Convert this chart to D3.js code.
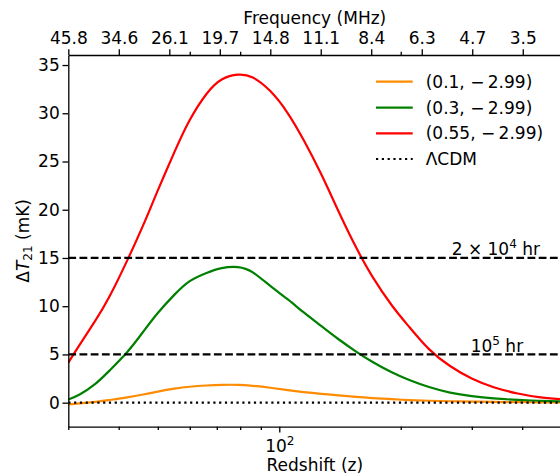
<!DOCTYPE html>
<html lang="en">
<head>
  <meta charset="UTF-8">
  <style>
    body {
      margin: 0;
      overflow: hidden;
      background: #fff;
    }

    svg {
      display: block;
      font-family: "DejaVu Sans", sans-serif;
    }

    .curve {
      fill: none;
      stroke-width: 2.2;
    }

    .axis path, .axis line {
      stroke: #000;
      stroke-width: 1.3;
    }

    .axis text {
      font-family: "DejaVu Sans", sans-serif;
      font-size: 17px;
      fill: #000;
    }
  </style>
  <script src="https://d3js.org/d3.v7.min.js"></script>
</head>
<body>

<svg id="chart"></svg>

<script>
  // redshift grid the curves were read at
  const zGrid = [30, 32, 35, 38, 42, 46, 50, 55, 60, 66, 72, 79, 86, 95, 105, 115, 127,
    140, 155, 170, 190, 210, 235, 265, 300, 340, 390, 440, 500];

  // Delta T21 (mK) for each model
  const dT_01 = [-0.17, -0.08, 0.08, 0.28, 0.55, 0.85, 1.15, 1.45, 1.65, 1.78, 1.85, 1.85, 1.75,
    1.55, 1.3, 1.1, 0.92, 0.76, 0.6, 0.48, 0.36, 0.27, 0.2, 0.15, 0.11, 0.08, 0.05, 0.04, 0.03];
  const dT_03 = [0.33, 0.85, 1.95, 3.35, 5.25, 7.35, 9.3, 11.2, 12.6, 13.45, 13.95, 14.05, 13.5,
    12.1, 10.7, 9.35, 7.95, 6.6, 5.3, 4.25, 3.15, 2.35, 1.62, 1.05, 0.68, 0.44, 0.29, 0.2, 0.14];
  const dT_055 = [4.15, 6.0, 8.5, 11.05, 14.75, 18.4, 22.0, 26.0, 29.3, 32.0, 33.5, 34.0, 33.7,
    32.3, 30.0, 27.2, 23.7, 19.9, 16.1, 13.1, 10.1, 7.85, 5.55, 3.8, 2.5, 1.6, 0.95, 0.58, 0.35];

  const seriesNames = ["(0.1, \u2212\u20092.99)", "(0.3, \u2212\u20092.99)", "(0.55, \u2212\u20092.99)"];
  const seriesColors = ["#ff8c00", "#008000", "#ff0000"];
  const seriesValues = [dT_01, dT_03, dT_055];

  // sensitivity levels (mK) and their labels
  const sensLevels = [15, 5];
  const sensBase = ["2 \u00d7 10", "10"];
  const sensSup = ["4", "5"];

  const yTicks = [0, 5, 10, 15, 20, 25, 30, 35];
  const zMajor = [100];
  const zMinor = [30, 40, 50, 60, 70, 80, 90, 200, 300, 400, 500];
  const topTickZ = [30, 40.02, 53.39, 71.22, 95.0, 126.7, 169.0, 225.5, 300.8, 401.3];
  const topMinorZ = [60, 80, 200];

  const W = 560, H = 474;
  const pLeft = 68.3, pRight = 561.3, pTop = 55, pBottom = 426.7;

  const svg = d3.select("#chart")
    .attr("width", W)
    .attr("height", H);

  const x = d3.scaleLog().domain([30, 500]).range([pLeft, pRight]);
  const y = d3.scaleLinear().domain([-2.49, 36.04]).range([pBottom, pTop]);

  svg.append("clipPath").attr("id", "plot-clip")
    .append("rect")
    .attr("x", pLeft).attr("y", pTop)
    .attr("width", pRight - pLeft).attr("height", pBottom - pTop);

  const plot = svg.append("g").attr("clip-path", "url(#plot-clip)");

  const line = d3.line()
    .x((d, i) => x(zGrid[i]))
    .y(d => y(d))
    .curve(d3.curveNatural);

  seriesValues.forEach((vals, k) => {
    plot.append("path")
      .attr("class", "curve")
      .attr("stroke", seriesColors[k])
      .attr("d", line(vals));
  });

  // LCDM reference (zero)
  plot.append("line")
    .attr("x1", pLeft).attr("x2", pRight)
    .attr("y1", y(0)).attr("y2", y(0))
    .attr("stroke", "#000")
    .attr("stroke-width", 2.2)
    .attr("stroke-dasharray", "2.2,3.6");

  // dashed sensitivity lines
  sensLevels.forEach(v => {
    plot.append("line")
      .attr("x1", pLeft).attr("x2", pRight)
      .attr("y1", y(v)).attr("y2", y(v))
      .attr("stroke", "#000")
      .attr("stroke-width", 2.2)
      .attr("stroke-dasharray", "7.8,3.4");
  });

  const sensX = [451.7, 470.7];
  sensLevels.forEach((v, i) => {
    const t = svg.append("text")
      .attr("x", sensX[i])
      .attr("y", y(v) - 2.5)
      .attr("font-size", 17);
    t.append("tspan").text(sensBase[i]);
    t.append("tspan").attr("dy", -7).attr("font-size", 12).text(sensSup[i]);
    t.append("tspan").attr("dy", 7).text(" hr");
  });

  // left axis
  svg.append("g")
    .attr("class", "axis")
    .attr("transform", `translate(${pLeft},0)`)
    .call(d3.axisLeft(y).tickValues(yTicks).tickSize(5.8).tickSizeOuter(0).tickPadding(2.8));

  // bottom axis: minor then major
  svg.append("g")
    .attr("class", "axis")
    .attr("transform", `translate(0,${pBottom})`)
    .call(d3.axisBottom(x).tickValues(zMinor).tickSize(3.3).tickSizeOuter(0).tickFormat(""));

  const bottomMajor = svg.append("g")
    .attr("class", "axis")
    .attr("transform", `translate(0,${pBottom})`)
    .call(d3.axisBottom(x).tickValues(zMajor).tickSize(5.8).tickSizeOuter(0).tickFormat(""));
  bottomMajor.select(".domain").remove();
  bottomMajor.selectAll(".tick").each(function(d) {
    const t = d3.select(this).append("text")
      .attr("y", 25.3)
      .attr("text-anchor", "middle");
    t.append("tspan").text("10");
    t.append("tspan").attr("dy", -7).attr("font-size", 12).text(Math.round(Math.log10(d)));
  });

  // top axis: frequency in MHz
  const freq = z => (1420.4 / (1 + z)).toFixed(1);
  svg.append("g")
    .attr("class", "axis")
    .attr("transform", `translate(0,${pTop})`)
    .call(d3.axisTop(x).tickValues(topTickZ).tickSize(5.8).tickSizeOuter(0).tickPadding(5.5).tickFormat(freq));

  const topMinor = svg.append("g")
    .attr("class", "axis")
    .attr("transform", `translate(0,${pTop})`)
    .call(d3.axisTop(x).tickValues(topMinorZ).tickSize(3.3).tickSizeOuter(0).tickFormat(""));
  topMinor.select(".domain").remove();

  // axis titles
  svg.append("text")
    .attr("x", (pLeft + pRight) / 2).attr("y", 24)
    .attr("text-anchor", "middle").attr("font-size", 17)
    .text("Frequency (MHz)");

  svg.append("text")
    .attr("x", (pLeft + pRight) / 2).attr("y", 470.5)
    .attr("text-anchor", "middle").attr("font-size", 17)
    .text("Redshift (z)");

  const yl = svg.append("text")
    .attr("transform", `translate(28.5,${(pTop + pBottom) / 2}) rotate(-90)`)
    .attr("text-anchor", "middle").attr("font-size", 17);
  yl.append("tspan").text("\u0394");
  yl.append("tspan").attr("font-style", "italic").text("T");
  yl.append("tspan").attr("dy", 3.5).attr("font-size", 12).text("21");
  yl.append("tspan").attr("dy", -3.5).text(" (mK)");

  // legend
  const legendRows = [81.7, 107.7, 133.3, 159];
  const legend = svg.append("g");
  seriesNames.forEach((name, k) => {
    legend.append("line")
      .attr("x1", 376).attr("x2", 412.7)
      .attr("y1", legendRows[k]).attr("y2", legendRows[k])
      .attr("stroke", seriesColors[k]).attr("stroke-width", 2.2);
    legend.append("text")
      .attr("x", 425.7).attr("y", legendRows[k]).attr("dy", "0.36em")
      .attr("font-size", 17)
      .text(name);
  });
  legend.append("line")
    .attr("x1", 376).attr("x2", 412.7)
    .attr("y1", legendRows[3]).attr("y2", legendRows[3])
    .attr("stroke", "#000").attr("stroke-width", 2.2)
    .attr("stroke-dasharray", "2.2,3.6");
  legend.append("text")
    .attr("x", 425.7).attr("y", legendRows[3]).attr("dy", "0.36em")
    .attr("font-size", 17)
    .text("\u039bCDM");
</script>

</body>
</html>
